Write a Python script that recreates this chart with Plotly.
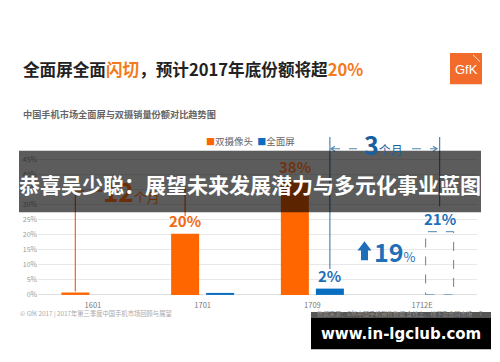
import plotly.graph_objects as go

categories = ["1601", "1701", "1709", "1712E"]
dual_camera = [0.008, 0.203, 0.38, None]
full_screen = [0.0, 0.006, 0.021, 0.21]
series_names = ["双摄像头", "全面屏"]

ORANGE = "#ff6600"
BLUE = "#0a6ec0"
W, H = 500, 362


def X(px):
    return px / W


def Y(py):
    return 1 - py / H


BARGAP = 0.362
GROUPGAP = 0.2
slot = (1 - BARGAP) / 2
OFF_O = -slot / 2
OFF_B = slot / 2
BW = slot * (1 - GROUPGAP)

fig = go.Figure()
fig.add_trace(go.Bar(x=categories, y=dual_camera, name=series_names[0],
                     marker=dict(color=ORANGE, line=dict(width=0))))
blue_colors = [BLUE] * 3 + ["rgba(0,0,0,0)"]
fig.add_trace(go.Bar(x=categories, y=full_screen, name=series_names[1],
                     marker=dict(color=blue_colors, line=dict(width=0))))

shapes = []
# dashed outline for estimate bar
i_e = categories.index("1712E")
shapes.append(dict(type="rect", xref="x", yref="y",
                   x0=i_e + OFF_B - BW / 2, x1=i_e + OFF_B + BW / 2,
                   y0=0, y1=full_screen[i_e],
                   line=dict(color="#4f86ad", width=1, dash="dash"),
                   fillcolor="rgba(0,0,0,0)", layer="above"))

# 12-month bracket (orange)
OC = "#f07020"
for i, ybot in ((0, 294), (1, 217)):
    shapes.append(dict(type="line", xref="x", yref="paper",
                       x0=i + OFF_O, x1=i + OFF_O, y0=Y(188), y1=Y(ybot),
                       line=dict(color=OC, width=1.3), layer="above"))
shapes.append(dict(type="line", xref="x", yref="paper", x0=0 + OFF_O, x1=0.12,
                   y0=Y(191), y1=Y(191), line=dict(color=OC, width=1.3, dash="dash"), layer="above"))
shapes.append(dict(type="line", xref="x", yref="paper", x0=0.72, x1=1 + OFF_O,
                   y0=Y(191), y1=Y(191), line=dict(color=OC, width=1.3, dash="dash"), layer="above"))

# 3-month bracket (blue)
BC = "#4f86ad"
shapes.append(dict(type="line", xref="x", yref="paper", x0=2 + OFF_B, x1=2 + OFF_B,
                   y0=Y(136), y1=Y(271), line=dict(color=BC, width=1.2), layer="above"))
shapes.append(dict(type="line", xref="x", yref="paper", x0=3 + OFF_B, x1=3 + OFF_B,
                   y0=Y(136), y1=Y(207), line=dict(color=BC, width=1.2), layer="above"))
shapes.append(dict(type="line", xref="paper", yref="paper", x0=X(331), x1=X(357),
                   y0=Y(148), y1=Y(148), line=dict(color=BC, width=1.2, dash="dash"), layer="above"))
shapes.append(dict(type="line", xref="paper", yref="paper", x0=X(412), x1=X(436),
                   y0=Y(148), y1=Y(148), line=dict(color=BC, width=1.2, dash="dash"), layer="above"))
# arrow heads
shapes.append(dict(type="path", xref="paper", yref="paper",
                   path=f"M {X(335)} {Y(145.5)} L {X(331)} {Y(148)} L {X(335)} {Y(150.5)}",
                   line=dict(color=BC, width=1.2), layer="above"))
shapes.append(dict(type="path", xref="paper", yref="paper",
                   path=f"M {X(433)} {Y(145.5)} L {X(437)} {Y(148)} L {X(433)} {Y(150.5)}",
                   line=dict(color=BC, width=1.2), layer="above"))

# up arrow for growth
AC = "#1f6fb8"
shapes.append(dict(type="path", xref="paper", yref="paper",
                   path=(f"M {X(357.5)} {Y(252)} L {X(364.5)} {Y(242.5)} L {X(371.5)} {Y(252)} "
                         f"L {X(368)} {Y(252)} L {X(368)} {Y(262)} L {X(361)} {Y(262)} L {X(361)} {Y(252)} Z"),
                   fillcolor=AC, line=dict(width=0), layer="above"))

# GfK logo
shapes.append(dict(type="rect", xref="paper", yref="paper", x0=X(450), x1=X(482),
                   y0=Y(82), y1=Y(50), fillcolor="#f26b2a", line=dict(width=0), layer="above"))
shapes.append(dict(type="line", xref="paper", yref="paper", x0=X(473), x1=X(480),
                   y0=Y(52), y1=Y(59), line=dict(color="white", width=0.8), layer="above"))

# gray overlay banner
shapes.append(dict(type="rect", xref="paper", yref="paper", x0=X(19), x1=X(481),
                   y0=Y(213), y1=Y(150), fillcolor="rgba(0,0,0,0.64)", line=dict(width=0), layer="above"))

# watermark box
shapes.append(dict(type="rect", xref="paper", yref="paper", x0=X(311), x1=X(491),
                   y0=Y(321), y1=Y(315), fillcolor="#555555", line=dict(width=0), layer="above"))
shapes.append(dict(type="rect", xref="paper", yref="paper", x0=X(311), x1=X(491),
                   y0=Y(353), y1=Y(321), fillcolor="#000000", line=dict(width=0), layer="above"))

ann = []
CJK = "Noto Sans CJK SC"
ann.append(dict(xref="paper", yref="paper", x=X(21), y=Y(66), xanchor="left", yanchor="middle",
                text="<b>全面屏全面<span style='color:#f47a20'>闪切</span>，预计2017年底份额将超"
                     "<span style='color:#f47a20'>20%</span></b>",
                font=dict(family=CJK, size=16.6, color="#222222"), showarrow=False))
ann.append(dict(xref="paper", yref="paper", x=X(466), y=Y(67), xanchor="center", yanchor="middle",
                text="GfK", font=dict(family="Liberation Sans", size=13, color="white"), showarrow=False))
ann.append(dict(xref="paper", yref="paper", x=X(21), y=Y(112), xanchor="left", yanchor="middle",
                text="<b>中国手机市场全面屏与双摄销量份额对比趋势图</b>",
                font=dict(family=CJK, size=9.2, color="#666666"), showarrow=False))
ann.append(dict(xref="paper", yref="paper", x=X(204), y=Y(140), xanchor="left", yanchor="middle",
                text=f"<span style='color:{ORANGE};font-size:9px'>■</span>{series_names[0]}  "
                     f"<span style='color:{BLUE};font-size:9px'>■</span>{series_names[1]}",
                font=dict(family=CJK, size=9.5, color="#666666"), showarrow=False))

# value labels
def pct(v):
    return f"{round(v * 100)}%"

i17 = categories.index("1701")
i09 = categories.index("1709")
ann.append(dict(xref="x", yref="y", x=i17 + OFF_O, y=dual_camera[i17], yanchor="bottom", yshift=1,
                text=f"<b>{pct(dual_camera[i17])}</b>", font=dict(family=CJK, size=15, color="#f26a10"),
                showarrow=False))
ann.append(dict(xref="x", yref="y", x=i09 + OFF_O, y=dual_camera[i09], yanchor="bottom", yshift=1,
                text=f"<b>{pct(dual_camera[i09])}</b>", font=dict(family=CJK, size=15, color="#6e3510"),
                showarrow=False))
ann.append(dict(xref="x", yref="y", x=i09 + OFF_B, y=full_screen[i09], yanchor="bottom", yshift=1,
                text=f"<b>{pct(full_screen[i09])}</b>", font=dict(family=CJK, size=15, color=AC),
                showarrow=False))
ann.append(dict(xref="x", yref="y", x=i_e + OFF_B, y=full_screen[i_e], yanchor="bottom", yshift=1,
                text=f"<b>{pct(full_screen[i_e])}</b>", font=dict(family=CJK, size=15, color=AC),
                showarrow=False))
growth = round((full_screen[i_e] - full_screen[i09]) * 100)
ann.append(dict(xref="paper", yref="paper", x=X(372), y=Y(253), xanchor="left", yanchor="middle",
                text=f"<b>{growth}</b><span style='font-size:13px'>%</span>",
                font=dict(family=CJK, size=25, color=AC), showarrow=False))
ann.append(dict(xref="paper", yref="paper", x=X(383), y=Y(143), xanchor="center", yanchor="middle",
                text="<b>3</b><span style='font-size:12px'>个月</span>",
                font=dict(family=CJK, size=25, color="#1a5fa0"), showarrow=False))
ann.append(dict(xref="paper", yref="paper", x=X(131), y=Y(191), xanchor="center", yanchor="middle",
                text="<b>12</b><span style='font-size:13px'>个月</span>",
                font=dict(family=CJK, size=26, color="#6a2f08"), showarrow=False))

# banner text
ann.append(dict(xref="paper", yref="paper", x=X(250), y=Y(184), xanchor="center", yanchor="middle",
                text="<b>恭喜吴少聪：展望未来发展潜力与多元化事业蓝图</b>",
                font=dict(family=CJK, size=21, color="white"), showarrow=False))

# footers
ann.append(dict(xref="paper", yref="paper", x=X(18), y=Y(316.5), xanchor="left", yanchor="middle",
                text="© GfK 2017 | 2017年第三季度中国手机市场回顾与展望",
                font=dict(family=CJK, size=6.3, color="#aaaaaa"), showarrow=False))
ann.append(dict(xref="paper", yref="paper", x=X(474), y=Y(316), xanchor="right", yanchor="middle",
                text="数据来源：GfK中国手机销售数据 含线上、线下及合同市场",
                font=dict(family=CJK, size=6, color="#888888"), showarrow=False))
ann.append(dict(xref="paper", yref="paper", x=X(481), y=Y(316), xanchor="center", yanchor="middle",
                text="7", font=dict(family=CJK, size=6, color="#888888"), showarrow=False))
ann.append(dict(xref="paper", yref="paper", x=X(401), y=Y(337), xanchor="center", yanchor="middle",
                text="<b>www.in-lgclub.com</b>",
                font=dict(family="DejaVu Sans", size=15, color="white"), showarrow=False))

fig.update_layout(
    width=W, height=H, margin=dict(l=0, r=0, t=0, b=0),
    paper_bgcolor="white", plot_bgcolor="white",
    barmode="group", bargap=BARGAP, bargroupgap=GROUPGAP, showlegend=False,
    font=dict(family=CJK, color="#666666"),
    xaxis=dict(domain=[0.076, 0.954], type="category", showgrid=False, showline=False, ticks="",
               ticklabelstandoff=5, tickfont=dict(size=7.5, color="#777777")),
    yaxis=dict(domain=[0.1782, 0.5652], range=[0, 0.455], dtick=0.05, tickformat=".0%",
               showgrid=True, gridcolor="#e8e8e8", gridwidth=1, zeroline=True, zerolinecolor="#e0e0e0",
               zerolinewidth=1, showline=False, ticks="", tickfont=dict(size=7, color="#999999")),
    shapes=shapes, annotations=ann,
)

fig.write_html("out.html", config={"displayModeBar": False},
               post_script="document.body.style.margin='0';document.body.style.overflow='hidden';")
